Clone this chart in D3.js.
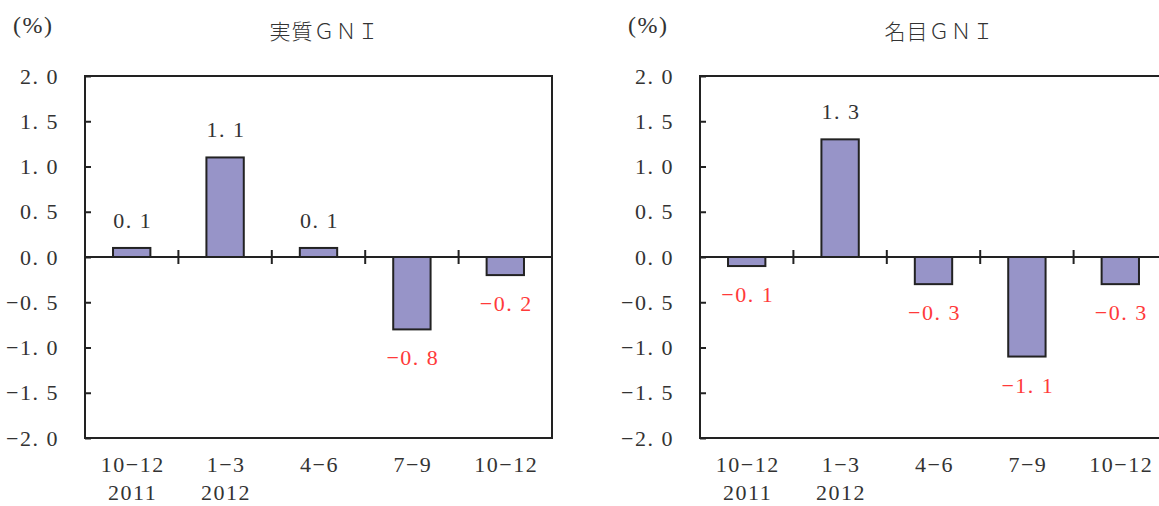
<!DOCTYPE html>
<html>
<head>
<meta charset="utf-8">
<script src="https://cdn.jsdelivr.net/npm/d3@7"></script>
<style>
  body { margin: 0; background: #fff; }
  text { font-family: "Liberation Serif", "DejaVu Serif", serif; letter-spacing: 1.5px; }
  .cjk { font-family: "Noto Sans CJK JP", sans-serif; letter-spacing: 1px; }
</style>
</head>
<body>
<div id="chart"></div>
<script>
// data
var quarters = ["10−12", "1−3", "4−6", "7−9", "10−12"];
var years = ["2011", "2012", "", "", ""];
var realGNI = [0.1, 1.1, 0.1, -0.8, -0.2];
var nominalGNI = [-0.1, 1.3, -0.3, -1.1, -0.3];
var yTicks = [-2.0, -1.5, -1.0, -0.5, 0.0, 0.5, 1.0, 1.5, 2.0];
var titles = ["実質ＧＮＩ", "名目ＧＮＩ"];

var WIDTH = 1159, HEIGHT = 506;
var PLOT_W = 467, TOP = 76, BOTTOM = 438;
var FONT = 22;

// number like "−0. 8" as in the original
function fmt(v) {
    var s = d3.format(".1f")(Math.abs(v)).replace(".", ". ");
    return (v < 0 ? "−" : "") + s;
}

var svg = d3.select("#chart").append("svg")
    .attr("width", WIDTH)
    .attr("height", HEIGHT);

function drawPanel(offsetX, title, values) {
    var g = svg.append("g").attr("transform", "translate(" + offsetX + ",0)");

    var x = d3.scaleBand()
        .domain(d3.range(quarters.length))
        .range([0, PLOT_W])
        .paddingInner(0.6)
        .paddingOuter(0.3);
    var y = d3.scaleLinear().domain([-2, 2]).range([BOTTOM, TOP]);
    var step = x.step();

    // "(%)" and title
    g.append("text")
        .attr("x", -72).attr("y", 33)
        .attr("font-size", 24).attr("fill", "#333")
        .text("(%)");
    g.append("text")
        .attr("class", "cjk")
        .attr("x", PLOT_W / 2 + 6).attr("y", 39)
        .attr("text-anchor", "middle")
        .attr("font-size", 21).attr("fill", "#333")
        .attr("font-weight", 300)
        .text(title);

    // y axis with inward ticks
    var yAxis = d3.axisLeft(y)
        .tickValues(yTicks)
        .tickSizeInner(-6)
        .tickSizeOuter(0)
        .tickPadding(26)
        .tickFormat(fmt);
    var ya = g.append("g").call(yAxis);
    ya.select(".domain").remove();
    ya.selectAll("line").attr("stroke", "#222").attr("stroke-width", 2);
    ya.selectAll("text")
        .attr("font-size", FONT)
        .attr("fill", "#333")
        .style("font-family", "'Liberation Serif', serif");

    // bars
    g.selectAll("rect.bar")
        .data(values)
        .enter().append("rect")
        .attr("class", "bar")
        .attr("x", function(d, i) { return x(i); })
        .attr("y", function(d) { return y(Math.max(d, 0)); })
        .attr("width", x.bandwidth())
        .attr("height", function(d) { return Math.abs(y(d) - y(0)); })
        .attr("fill", "#9794c8")
        .attr("stroke", "#222")
        .attr("stroke-width", 2);

    // zero line and category separators
    g.append("line")
        .attr("x1", 0).attr("x2", PLOT_W)
        .attr("y1", y(0)).attr("y2", y(0))
        .attr("stroke", "#222").attr("stroke-width", 2);
    g.selectAll("line.sep")
        .data(d3.range(1, quarters.length))
        .enter().append("line")
        .attr("class", "sep")
        .attr("x1", function(k) { return k * step; })
        .attr("x2", function(k) { return k * step; })
        .attr("y1", y(0) - 7).attr("y2", y(0) + 7)
        .attr("stroke", "#222").attr("stroke-width", 2);

    // frame
    g.append("rect")
        .attr("x", 0).attr("y", TOP)
        .attr("width", PLOT_W).attr("height", BOTTOM - TOP)
        .attr("fill", "none")
        .attr("stroke", "#222").attr("stroke-width", 2);

    // value labels
    g.selectAll("text.val")
        .data(values)
        .enter().append("text")
        .attr("class", "val")
        .attr("x", function(d, i) { return x(i) + x.bandwidth() / 2 + 1; })
        .attr("y", function(d) { return d >= 0 ? y(d) - 20 : y(d) + 36; })
        .attr("text-anchor", "middle")
        .attr("font-size", FONT)
        .attr("fill", function(d) { return d >= 0 ? "#333" : "#ff3a3a"; })
        .text(fmt);

    // category labels
    g.selectAll("text.q")
        .data(quarters)
        .enter().append("text")
        .attr("class", "q")
        .attr("x", function(d, i) { return x(i) + x.bandwidth() / 2 + 1; })
        .attr("y", 472)
        .attr("text-anchor", "middle")
        .attr("font-size", FONT).attr("fill", "#333")
        .text(function(d) { return d; });
    g.selectAll("text.yr")
        .data(years)
        .enter().append("text")
        .attr("class", "yr")
        .attr("x", function(d, i) { return x(i) + x.bandwidth() / 2 + 1; })
        .attr("y", 500)
        .attr("text-anchor", "middle")
        .attr("font-size", FONT).attr("fill", "#333")
        .text(function(d) { return d; });
}

drawPanel(85, titles[0], realGNI);
drawPanel(700, titles[1], nominalGNI);
</script>
</body>
</html>
